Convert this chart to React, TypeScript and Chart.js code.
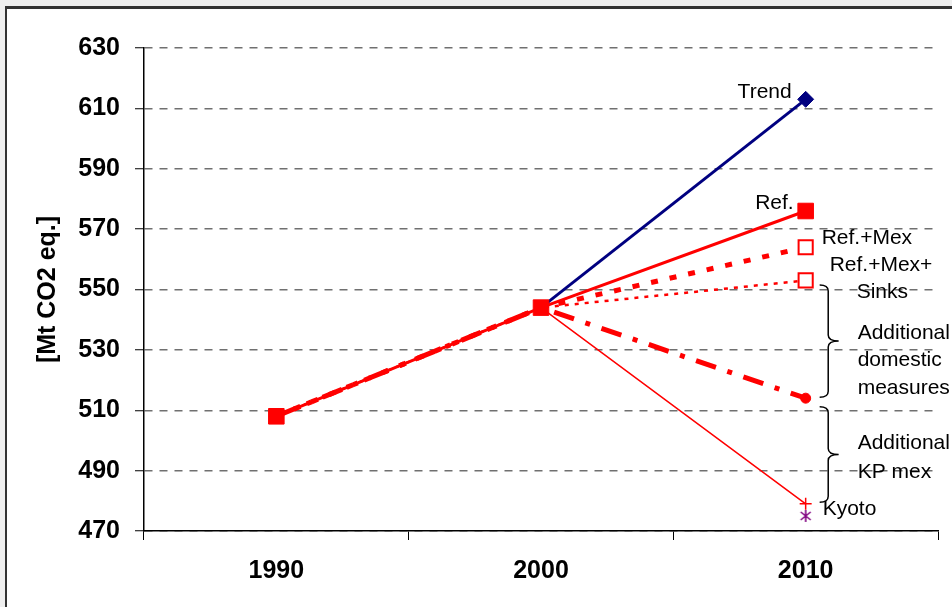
import React, { useEffect, useRef } from "react";
import { Chart, registerables } from "chart.js";

Chart.register(...registerables);

const years = ["1990", "2000", "2010"];
const trend = [null, 544, 613];
const ref = [508, 544, 576];
const refMex = [508, 544, 564];
const refMexSinks = [508, 544, 553];
const addDomestic = [508, 544, 514];
const kyoto = [508, 544, 479];
const kyotoMark = [null, null, 475];
const yMin = 470;
const yMax = 630;
const yStep = 20;

const RED = "#ff0000";

function makeAsterisk(): HTMLCanvasElement {
  const c = document.createElement("canvas");
  c.width = 14;
  c.height = 14;
  const g = c.getContext("2d")!;
  g.strokeStyle = "#800080";
  g.lineWidth = 1.6;
  g.beginPath();
  g.moveTo(7, 1);
  g.lineTo(7, 13);
  g.moveTo(2, 3);
  g.lineTo(12, 11);
  g.moveTo(12, 3);
  g.lineTo(2, 11);
  g.stroke();
  return c;
}

const annotationPlugin = {
  id: "annots",
  afterDatasetsDraw(chart: any) {
    const ctx = chart.ctx;
    const xs = chart.scales.x;
    const ys = chart.scales.y;
    const x10 = xs.getPixelForValue(2);
    const Y = (v: number) => ys.getPixelForValue(v);
    ctx.save();
    ctx.fillStyle = "#000";
    ctx.font = "21px 'Liberation Sans', Arial, sans-serif";
    ctx.textBaseline = "middle";
    ctx.textAlign = "right";
    ctx.fillText("Trend", x10 - 14, Y(615.5));
    ctx.fillText("Ref.", x10 - 12, Y(578.5));
    ctx.textAlign = "left";
    ctx.fillText("Ref.+Mex", x10 + 16, Y(567));
    ctx.fillText("Ref.+Mex+", x10 + 24, Y(558.2));
    ctx.fillText("Sinks", x10 + 51, Y(549));
    ctx.fillText("Additional", x10 + 52, Y(535.6));
    ctx.fillText("domestic", x10 + 52, Y(526.6));
    ctx.fillText("measures", x10 + 52, Y(517.4));
    ctx.fillText("Additional", x10 + 52, Y(499));
    ctx.fillText("KP mex", x10 + 52, Y(489.4));
    ctx.fillText("Kyoto", x10 + 17, Y(477.2));

    const brace = (x: number, y1: number, y2: number, w: number) => {
      const xm = x + w * 0.45;
      const ym = (y1 + y2) / 2;
      const r = 6;
      ctx.beginPath();
      ctx.moveTo(x, y1);
      ctx.quadraticCurveTo(xm, y1, xm, y1 + r);
      ctx.lineTo(xm, ym - r);
      ctx.quadraticCurveTo(xm, ym, x + w, ym);
      ctx.quadraticCurveTo(xm, ym, xm, ym + r);
      ctx.lineTo(xm, y2 - r);
      ctx.quadraticCurveTo(xm, y2, x, y2);
      ctx.stroke();
    };
    ctx.strokeStyle = "#000";
    ctx.lineWidth = 1.5;
    brace(x10 + 14, Y(551.5), Y(514.3), 19);
    brace(x10 + 14, Y(511.2), Y(479.5), 19);
    ctx.restore();
  },
};

export default function App() {
  const canvasRef = useRef<HTMLCanvasElement | null>(null);

  useEffect(() => {
    const canvas = canvasRef.current;
    if (!canvas) return;
    const star = makeAsterisk();
    const boldFont = { family: "'Liberation Sans', Arial, sans-serif", size: 25, weight: "bold" as const };
    const chart = new Chart(canvas, {
      type: "line",
      data: {
        labels: years,
        datasets: [
          {
            label: "Ref.",
            data: ref,
            borderColor: RED,
            backgroundColor: RED,
            borderWidth: 3,
            pointStyle: "rect",
            pointRadius: 11,
            pointBorderWidth: 1,
          },
          {
            label: "Trend",
            data: trend,
            borderColor: "#000080",
            backgroundColor: "#000080",
            borderWidth: 3,
            pointStyle: "rectRot",
            pointRadius: [0, 0, 8],
            pointBorderWidth: 1,
            spanGaps: true,
          },
          {
            label: "Ref.+Mex",
            data: refMex,
            borderColor: RED,
            backgroundColor: "#ffffff",
            borderWidth: 5,
            borderDash: [7, 12],
            pointStyle: "rect",
            pointRadius: [0, 0, 10],
            pointBorderWidth: 2,
            pointBorderColor: RED,
            pointBackgroundColor: "#ffffff",
          },
          {
            label: "Ref.+Mex+Sinks",
            data: refMexSinks,
            borderColor: RED,
            backgroundColor: "#ffffff",
            borderWidth: 2.5,
            borderDash: [4, 6],
            pointStyle: "rect",
            pointRadius: [0, 0, 10],
            pointBorderWidth: 2,
            pointBorderColor: RED,
            pointBackgroundColor: "#ffffff",
          },
          {
            label: "Additional domestic measures",
            data: addDomestic,
            borderColor: RED,
            backgroundColor: RED,
            borderWidth: 5,
            borderDash: [21, 12, 5, 12],
            pointStyle: "circle",
            pointRadius: [0, 0, 5],
            pointBorderWidth: 1,
          },
          {
            label: "Kyoto",
            data: kyoto,
            borderColor: RED,
            backgroundColor: RED,
            borderWidth: 1.5,
            pointStyle: "cross",
            pointRadius: [0, 0, 6],
            pointBorderWidth: 1.5,
          },
          {
            label: "Kyoto mark",
            data: kyotoMark,
            showLine: false,
            borderColor: "#800080",
            backgroundColor: "#800080",
            pointStyle: star as any,
            pointRadius: 6,
          },
        ],
      },
      options: {
        animation: false,
        responsive: false,
        maintainAspectRatio: false,
        devicePixelRatio: 1,
        layout: { padding: { top: 48, right: 14, left: 0, bottom: 0 } },
        elements: { line: { tension: 0 } },
        plugins: {
          legend: { display: false },
          tooltip: { enabled: false },
          title: { display: false },
        },
        scales: {
          x: {
            type: "category",
            offset: true,
            afterFit: (s: any) => {
              s.height = 76;
            },
            grid: {
              offset: true,
              drawOnChartArea: false,
              tickLength: 9,
              color: "#000",
              tickColor: "#000",
              tickWidth: 1,
            },
            border: { color: "#000", width: 1.5 },
            ticks: { color: "#000", font: boldFont, padding: 16, maxRotation: 0 },
          },
          y: {
            min: yMin,
            max: yMax,
            afterFit: (s: any) => {
              s.width = 144;
            },
            ticks: { stepSize: yStep, color: "#000", font: boldFont, padding: 15 },
            grid: {
              color: "#707070",
              lineWidth: 1.5,
              tickColor: "#000",
              tickLength: 9,
              tickWidth: 1,
              tickBorderDash: [],
            } as any,
            border: { color: "#000", width: 1.5, dash: [8, 7] },
            title: {
              display: true,
              text: "[Mt CO2 eq.]",
              color: "#000",
              font: boldFont,
              padding: { top: 33, bottom: 0 },
            },
          },
        },
      },
      plugins: [annotationPlugin],
    });
    return () => chart.destroy();
  }, []);

  return (
    <div style={{ position: "fixed", left: 0, top: 0, width: 952, height: 607, background: "#efefef", overflow: "hidden" }}>
      <div
        style={{
          position: "absolute",
          left: 5,
          top: 6,
          width: 960,
          height: 620,
          background: "#ffffff",
          borderLeft: "2px solid #333",
          borderTop: "3px solid #333",
        }}
      />
      <canvas
        ref={canvasRef}
        width={952}
        height={607}
        style={{ position: "absolute", left: 0, top: 0, width: 952, height: 607, display: "block" }}
      />
    </div>
  );
}
